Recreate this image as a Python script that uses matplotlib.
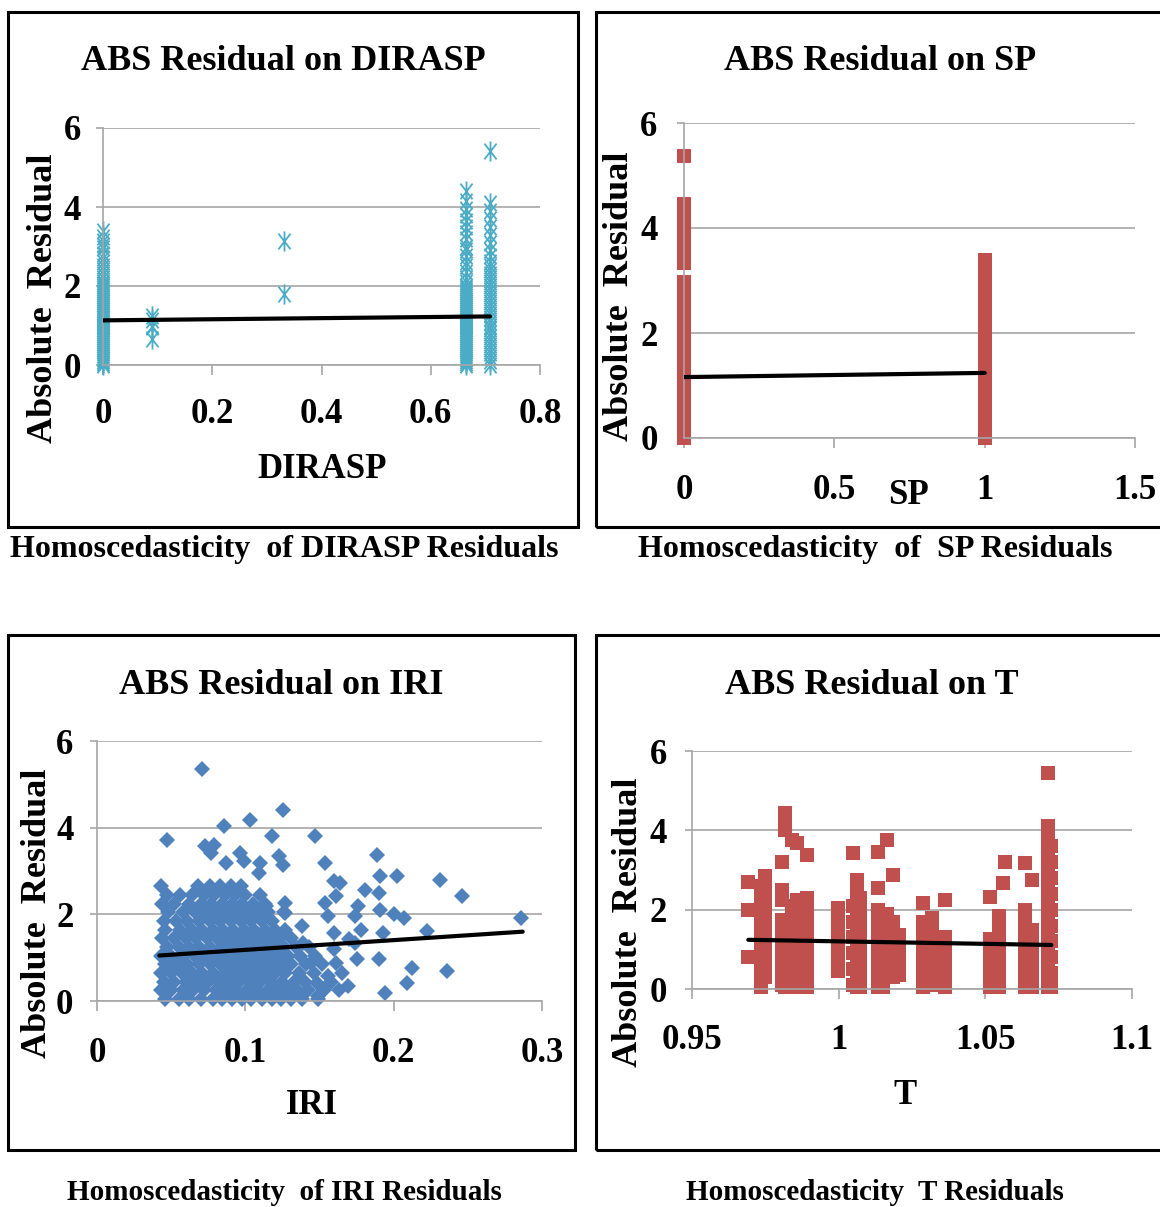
import matplotlib
matplotlib.use("Agg")
import matplotlib.pyplot as plt
from matplotlib.path import Path
from matplotlib.patches import Rectangle

W, H = 1160, 1207

# ---------------- data ----------------
# Panel 1: DIRASP
dir_x0_y = [0.0, 0.05, 0.1, 0.15, 0.2, 0.25, 0.3, 0.35, 0.4, 0.45, 0.5, 0.55, 0.6, 0.65, 0.7,
            0.75, 0.8, 0.85, 0.9, 0.95, 1.0, 1.05, 1.1, 1.15, 1.2, 1.25, 1.3, 1.35, 1.4, 1.45,
            1.5, 1.55, 1.6, 1.65, 1.7, 1.75, 1.8, 1.85, 1.9, 1.95, 2.0, 2.05, 2.1, 2.2, 2.3,
            2.4, 2.5, 2.6, 2.7, 2.8, 2.95, 3.05, 3.15, 3.25, 3.4]
dir_x009_y = [1.25, 1.15, 1.0, 0.95, 0.65]
dir_x033_y = [3.15, 1.8]
dir_x067_y = [0.0, 0.05, 0.1, 0.15, 0.2, 0.25, 0.3, 0.35, 0.4, 0.45, 0.5, 0.55, 0.6, 0.65, 0.7,
              0.75, 0.8, 0.85, 0.9, 0.95, 1.0, 1.05, 1.1, 1.15, 1.2, 1.25, 1.3, 1.35, 1.4, 1.45,
              1.5, 1.55, 1.6, 1.65, 1.7, 1.75, 1.8, 1.85, 1.9, 1.95, 2.0, 2.1, 2.2, 2.35, 2.5,
              2.6, 2.75, 2.9, 3.0, 3.2, 3.35, 3.5, 3.65, 3.8, 3.95, 4.15, 4.4]
dir_x071_y = [0.0, 0.1, 0.2, 0.3, 0.4, 0.5, 0.6, 0.7, 0.8, 0.9, 1.0, 1.1, 1.2, 1.3, 1.4, 1.5,
              1.6, 1.7, 1.8, 1.9, 2.0, 2.1, 2.2, 2.3, 2.4, 2.5, 2.6, 2.75, 2.9, 3.1, 3.3, 3.5,
              3.7, 3.9, 4.1, 5.42]
dir_cols_x = [0.0, 0.09, 0.331, 0.6645, 0.7085]
dir_trend_x = [0.0, 0.7085]
dir_trend_y = [1.13, 1.23]

# Panel 2: SP
sp_x0_y = [0.0, 0.1, 0.2, 0.3, 0.4, 0.5, 0.6, 0.7, 0.8, 0.9, 1.0, 1.1, 1.2, 1.3, 1.4, 1.5,
           1.6, 1.7, 1.8, 1.9, 2.0, 2.1, 2.2, 2.3, 2.4, 2.5, 2.6, 2.7, 2.8, 2.97,
           3.33, 3.45, 3.55, 3.65, 3.75, 3.85, 3.95, 4.05, 4.15, 4.25, 4.35, 4.46, 5.38]
sp_x1_y = [0.0, 0.1, 0.2, 0.3, 0.4, 0.5, 0.6, 0.7, 0.8, 0.9, 1.0, 1.1, 1.2, 1.3, 1.4, 1.5,
           1.6, 1.7, 1.8, 1.9, 2.0, 2.1, 2.2, 2.3, 2.4, 2.5, 2.6, 2.7, 2.8, 2.9, 3.0, 3.1,
           3.2, 3.3, 3.4]
sp_cols_x = [0.0, 1.0]
sp_trend_x = [0.0, 1.0]
sp_trend_y = [1.16, 1.24]

# Panel 3: IRI
iri_rows_y = [0.05, 0.25, 0.45, 0.65, 0.85, 1.05, 1.25, 1.45, 1.65, 1.85, 2.05, 2.25, 2.45, 2.65]
iri_rows_x = [
    [0.046, 0.055, 0.062, 0.070, 0.078, 0.084, 0.091, 0.098, 0.104, 0.111, 0.118, 0.124, 0.131, 0.138, 0.149],
    [0.043, 0.050, 0.058, 0.065, 0.072, 0.080, 0.087, 0.094, 0.101, 0.108, 0.115, 0.121, 0.128, 0.135, 0.142, 0.153, 0.163],
    [0.045, 0.052, 0.060, 0.068, 0.075, 0.082, 0.089, 0.096, 0.103, 0.110, 0.117, 0.125, 0.133, 0.140, 0.158],
    [0.043, 0.050, 0.057, 0.064, 0.071, 0.078, 0.086, 0.093, 0.100, 0.107, 0.114, 0.120, 0.127, 0.136, 0.146, 0.165],
    [0.046, 0.053, 0.061, 0.069, 0.076, 0.083, 0.090, 0.097, 0.104, 0.111, 0.118, 0.124, 0.131, 0.141, 0.152],
    [0.043, 0.050, 0.058, 0.066, 0.073, 0.080, 0.087, 0.094, 0.101, 0.108, 0.115, 0.122, 0.129, 0.137, 0.147],
    [0.047, 0.055, 0.062, 0.069, 0.076, 0.084, 0.091, 0.098, 0.105, 0.112, 0.119, 0.126, 0.134, 0.143],
    [0.044, 0.052, 0.060, 0.067, 0.074, 0.081, 0.088, 0.095, 0.102, 0.109, 0.116, 0.123, 0.131],
    [0.046, 0.056, 0.064, 0.071, 0.078, 0.085, 0.092, 0.099, 0.106, 0.113, 0.120, 0.127],
    [0.045, 0.053, 0.061, 0.069, 0.076, 0.083, 0.090, 0.097, 0.104, 0.111, 0.118],
    [0.048, 0.058, 0.066, 0.073, 0.080, 0.087, 0.094, 0.101, 0.108, 0.115, 0.126],
    [0.044, 0.052, 0.062, 0.070, 0.077, 0.084, 0.091, 0.098, 0.105, 0.113],
    [0.047, 0.056, 0.064, 0.072, 0.079, 0.086, 0.093, 0.100, 0.110],
    [0.043, 0.068, 0.076, 0.083, 0.090, 0.097],
]
iri_extra_x = [0.0705, 0.0473, 0.0854, 0.1029, 0.1253, 0.1178, 0.1472, 0.073, 0.079, 0.0767,
               0.0966, 0.099, 0.0867, 0.110, 0.109, 0.1228, 0.1253, 0.1534, 0.189, 0.2025,
               0.231, 0.246, 0.286, 0.236, 0.194, 0.2087, 0.2125, 0.2224, 0.207, 0.200,
               0.191, 0.190, 0.191, 0.193, 0.190, 0.181, 0.176, 0.174, 0.178, 0.175,
               0.160, 0.164, 0.161, 0.154, 0.156, 0.160, 0.138, 0.139, 0.160, 0.161,
               0.156, 0.169, 0.149, 0.170, 0.174, 0.144, 0.148, 0.127, 0.1265, 0.114]
iri_extra_y = [5.35, 3.72, 4.03, 4.17, 4.40, 3.81, 3.81, 3.57, 3.60, 3.41,
               3.41, 3.22, 3.18, 3.18, 2.95, 3.34, 3.15, 3.18, 3.38, 2.88,
               2.80, 2.42, 1.92, 0.69, 0.19, 0.42, 0.77, 1.61, 1.92, 2.00,
               2.88, 2.49, 2.11, 1.57, 0.96, 2.57, 2.19, 1.96, 1.65, 0.96,
               2.76, 2.72, 2.42, 2.26, 1.96, 1.57, 1.73, 1.34, 1.19, 0.88,
               0.58, 0.35, 0.12, 1.42, 1.34, 0.88, 0.42, 2.26, 2.03, 2.19]
iri_trend_x = [0.042, 0.287]
iri_trend_y = [1.05, 1.60]

# Panel 4: T
t_cols_x = [0.9692, 0.9735, 0.9748, 0.9806, 0.9817, 0.9840, 0.9857, 0.9875, 0.9891,
            0.9999, 1.0050, 1.0062, 1.0074, 1.0135, 1.0150, 1.0164, 1.0186, 1.0205,
            1.0289, 1.0318, 1.0363, 1.0516, 1.0530, 1.0545, 1.0561, 1.0567, 1.0635,
            1.0658, 1.0715, 1.0725]
t_cols_y = [
    [0.81, 1.99, 2.70],
    [0.05, 0.2, 0.35, 0.5, 0.65, 0.8, 0.95, 1.1, 1.25, 1.4, 1.55, 1.7, 1.85, 2.0, 2.15, 2.3, 2.45, 2.6],
    [0.3, 0.6, 0.9, 1.2, 1.5, 1.8, 2.1, 2.4, 2.7, 2.85],
    [0.1, 0.25, 0.4, 0.55, 0.7, 0.85, 1.0, 1.15, 1.3, 1.45, 1.6, 1.75, 2.24, 2.5, 3.21],
    [4.0, 4.2, 4.43, 0.05, 0.4, 0.8, 1.2, 1.6],
    [0.05, 0.3, 0.6, 0.9, 1.2, 1.5, 1.8, 2.1, 3.76],
    [0.05, 0.25, 0.45, 0.65, 0.85, 1.05, 1.25, 1.45, 1.65, 1.85, 2.05, 2.25, 3.67],
    [0.1, 0.4, 0.7, 1.0, 1.3, 1.6, 1.9, 2.2],
    [0.05, 0.3, 0.6, 0.9, 1.2, 1.5, 1.8, 2.1, 2.3, 3.38],
    [0.45, 0.6, 0.75, 0.9, 1.05, 1.2, 1.35, 1.5, 1.65, 1.8, 1.95, 2.05],
    [3.42, 0.1, 0.5, 0.9, 1.3, 1.7, 2.1],
    [0.05, 0.2, 0.35, 0.5, 0.65, 0.8, 0.95, 1.1, 1.25, 1.4, 1.55, 1.7, 1.85, 2.0, 2.15, 2.3, 2.45, 2.6, 2.75],
    [0.05, 0.35, 0.65, 0.95, 1.25, 1.55, 1.85, 2.15, 2.3],
    [0.05, 0.2, 0.35, 0.5, 0.65, 0.8, 0.95, 1.1, 1.25, 1.4, 1.55, 1.7, 1.85, 2.0, 2.54, 3.46],
    [0.05, 0.35, 0.65, 0.95, 1.25, 1.55],
    [0.3, 0.5, 0.7, 0.9, 1.1, 1.3, 1.5, 1.7, 1.9, 3.76],
    [0.3, 0.5, 0.7, 0.9, 1.1, 1.3, 1.5, 1.7, 2.87],
    [0.35, 0.55, 0.75, 0.95, 1.15, 1.35],
    [0.05, 0.2, 0.35, 0.5, 0.65, 0.8, 0.95, 1.1, 1.25, 1.4, 1.55, 1.7, 2.16],
    [0.1, 0.4, 0.7, 1.0, 1.3, 1.6, 1.8],
    [0.05, 0.2, 0.35, 0.5, 0.65, 0.8, 0.95, 1.1, 1.25, 1.3, 2.24],
    [0.05, 0.2, 0.35, 0.5, 0.65, 0.8, 0.95, 1.1, 1.25, 2.33],
    [0.05, 0.3, 0.55, 0.73, 1.0],
    [0.05, 0.2, 0.35, 0.5, 0.65, 0.8, 0.95, 1.1, 1.25, 1.4, 1.55, 1.7, 1.85],
    [2.66],
    [3.21],
    [0.05, 0.2, 0.35, 0.5, 0.65, 0.8, 0.95, 1.1, 1.25, 1.4, 1.55, 1.7, 1.85, 2.0, 3.17],
    [0.05, 0.25, 0.45, 0.65, 0.85, 1.05, 1.25, 1.5, 2.75],
    [0.05, 0.2, 0.35, 0.5, 0.65, 0.8, 0.95, 1.1, 1.25, 1.4, 1.55, 1.7, 1.85, 2.0, 2.15, 2.3,
     2.45, 2.6, 2.75, 2.9, 3.05, 3.2, 3.35, 3.5, 3.65, 3.8, 3.95, 4.1, 5.44],
    [0.05, 0.4, 0.8, 1.2, 1.6, 2.0, 2.4, 2.8, 3.2, 3.6],
]
t_trend_x = [0.9692, 1.0725]
t_trend_y = [1.24, 1.11]

# ticks / labels
dir_xticks = [0, 0.2, 0.4, 0.6, 0.8]
dir_xticklabels = ["0", "0.2", "0.4", "0.6", "0.8"]
sp_xticks = [0, 0.5, 1, 1.5]
sp_xticklabels = ["0", "0.5", "1", "1.5"]
iri_xticks = [0, 0.1, 0.2, 0.3]
iri_xticklabels = ["0", "0.1", "0.2", "0.3"]
t_xticks = [0.95, 1.0, 1.05, 1.1]
t_xticklabels = ["0.95", "1", "1.05", "1.1"]
yticks = [0, 2, 4, 6]
yticklabels = ["0", "2", "4", "6"]

titles = ["ABS Residual on DIRASP", "ABS Residual on SP", "ABS Residual on IRI", "ABS Residual on T"]
xlabels = ["DIRASP", "SP", "IRI", "T"]
ylabel = "Absolute  Residual"
captions = ["Homoscedasticity  of DIRASP Residuals", "Homoscedasticity  of  SP Residuals",
            "Homoscedasticity  of IRI Residuals", "Homoscedasticity  T Residuals"]

# ---------------- styling ----------------
SERIF = ["Liberation Serif", "DejaVu Serif"]
GRID = "#a6a6a6"
C_TEAL = "#4bacc6"
C_RED = "#c0504d"
C_BLUE = "#4f81bd"

fig = plt.figure(figsize=(W / 100, H / 100), dpi=100)
fig.patch.set_facecolor("white")


def fx(px):
    return px / W


def fy(py):
    return 1 - py / H


def make_ax(left, right, top, bottom, xlim, xticks, xticklabels, xpad, ypad):
    ax = fig.add_axes([fx(left), fy(bottom), fx(right - left), (bottom - top) / H])
    ax.set_xlim(*xlim)
    ax.set_ylim(0, 6)
    ax.set_xticks(xticks)
    ax.set_xticklabels(xticklabels)
    ax.set_yticks(yticks)
    ax.set_yticklabels(yticklabels)
    for s in ["top", "right"]:
        ax.spines[s].set_visible(False)
    for s in ["left", "bottom"]:
        ax.spines[s].set_color(GRID)
        ax.spines[s].set_linewidth(1.2)
    ax.grid(axis="y", color=GRID, linewidth=1.2)
    ax.set_axisbelow(True)
    ax.tick_params(axis="x", direction="out", length=7, width=1.2, color=GRID, pad=xpad)
    ax.tick_params(axis="y", direction="out", length=5, width=1.2, color=GRID, pad=ypad)
    for lab in ax.get_xticklabels() + ax.get_yticklabels():
        lab.set_fontfamily(SERIF)
        lab.set_fontweight("bold")
        lab.set_fontsize(25)
        lab.set_color("black")
    ax.patch.set_alpha(0)
    return ax


# frames
for (l, t, r, b) in [(8, 12, 578, 527), (596, 12, 1175, 527), (8, 635, 575, 1150), (596, 635, 1175, 1150)]:
    fig.patches.append(Rectangle((fx(l), fy(b)), fx(r - l), (b - t) / H, transform=fig.transFigure,
                                 fill=False, edgecolor="black", linewidth=2.2, clip_on=False))

star = Path([(0, -1), (0, 1), (-0.6, -0.78), (0.6, 0.78), (-0.6, 0.78), (0.6, -0.78)],
            [Path.MOVETO, Path.LINETO, Path.MOVETO, Path.LINETO, Path.MOVETO, Path.LINETO])

# Panel 1
ax1 = make_ax(103, 540, 128, 365, (0, 0.8), dir_xticks, dir_xticklabels, 17, 11)
for xv, ys in zip(dir_cols_x, [dir_x0_y, dir_x009_y, dir_x033_y, dir_x067_y, dir_x071_y]):
    ax1.plot([xv] * len(ys), ys, linestyle="none", marker=star, markersize=14.5,
             markerfacecolor="none", markeredgecolor=C_TEAL, markeredgewidth=1.3, clip_on=False)
ax1.plot(dir_trend_x, dir_trend_y, color="black", linewidth=3, solid_capstyle="round", zorder=5)

# Panel 2
ax2 = make_ax(684, 1135, 123, 438, (0, 1.5), sp_xticks, sp_xticklabels, 19, 14)
for xv, ys in zip(sp_cols_x, [sp_x0_y, sp_x1_y]):
    ax2.plot([xv] * len(ys), ys, linestyle="none", marker="s", markersize=9.6,
             color=C_RED, markeredgewidth=0, clip_on=False)
ax2.plot(sp_trend_x, sp_trend_y, color="black", linewidth=3, solid_capstyle="round", zorder=5)

# Panel 3
ax3 = make_ax(97, 542, 741, 1001, (0, 0.3), iri_xticks, iri_xticklabels, 19, 12)
ix, iy = [], []
for yv, xs in zip(iri_rows_y, iri_rows_x):
    ix.extend(xs)
    iy.extend([yv] * len(xs))
ix.extend(iri_extra_x)
iy.extend(iri_extra_y)
ax3.plot(ix, iy, linestyle="none", marker="D", markersize=8.6, color=C_BLUE,
         markeredgewidth=0, clip_on=False)
ax3.plot(iri_trend_x, iri_trend_y, color="black", linewidth=3, solid_capstyle="round", zorder=5)

# Panel 4
ax4 = make_ax(692, 1132, 751, 989, (0.95, 1.1), t_xticks, t_xticklabels, 18, 13)
for xv, ys in zip(t_cols_x, t_cols_y):
    ax4.plot([xv] * len(ys), ys, linestyle="none", marker="s", markersize=9.6,
             color=C_RED, markeredgewidth=0, clip_on=False)
ax4.plot(t_trend_x, t_trend_y, color="black", linewidth=3, solid_capstyle="round", zorder=5)

# texts
title_pos = [(283, 62), (880, 62), (281, 686), (872, 686)]
xlabel_pos = [(322, 470), (908, 495), (312, 1105), (905, 1095)]
ylabel_pos = [(44, 298), (619, 296), (38, 913), (629, 922)]
caption_pos = [(284, 549), (875, 549), (284, 1192), (875, 1192)]
caption_size = [23, 23, 21, 21]

for i in range(4):
    fig.text(fx(title_pos[i][0]), fy(title_pos[i][1]), titles[i], ha="center", va="center",
             fontfamily=SERIF, fontweight="bold", fontsize=26)
    fig.text(fx(xlabel_pos[i][0]), fy(xlabel_pos[i][1]), xlabels[i], ha="center", va="center",
             fontfamily=SERIF, fontweight="bold", fontsize=25)
    fig.text(fx(ylabel_pos[i][0]), fy(ylabel_pos[i][1]), ylabel, ha="center", va="center",
             rotation=90, fontfamily=SERIF, fontweight="bold", fontsize=26)
    fig.text(fx(caption_pos[i][0]), fy(caption_pos[i][1]), captions[i], ha="center", va="center",
             fontfamily=SERIF, fontweight="bold", fontsize=caption_size[i])

fig.savefig("out.png", dpi=100, facecolor="white")
